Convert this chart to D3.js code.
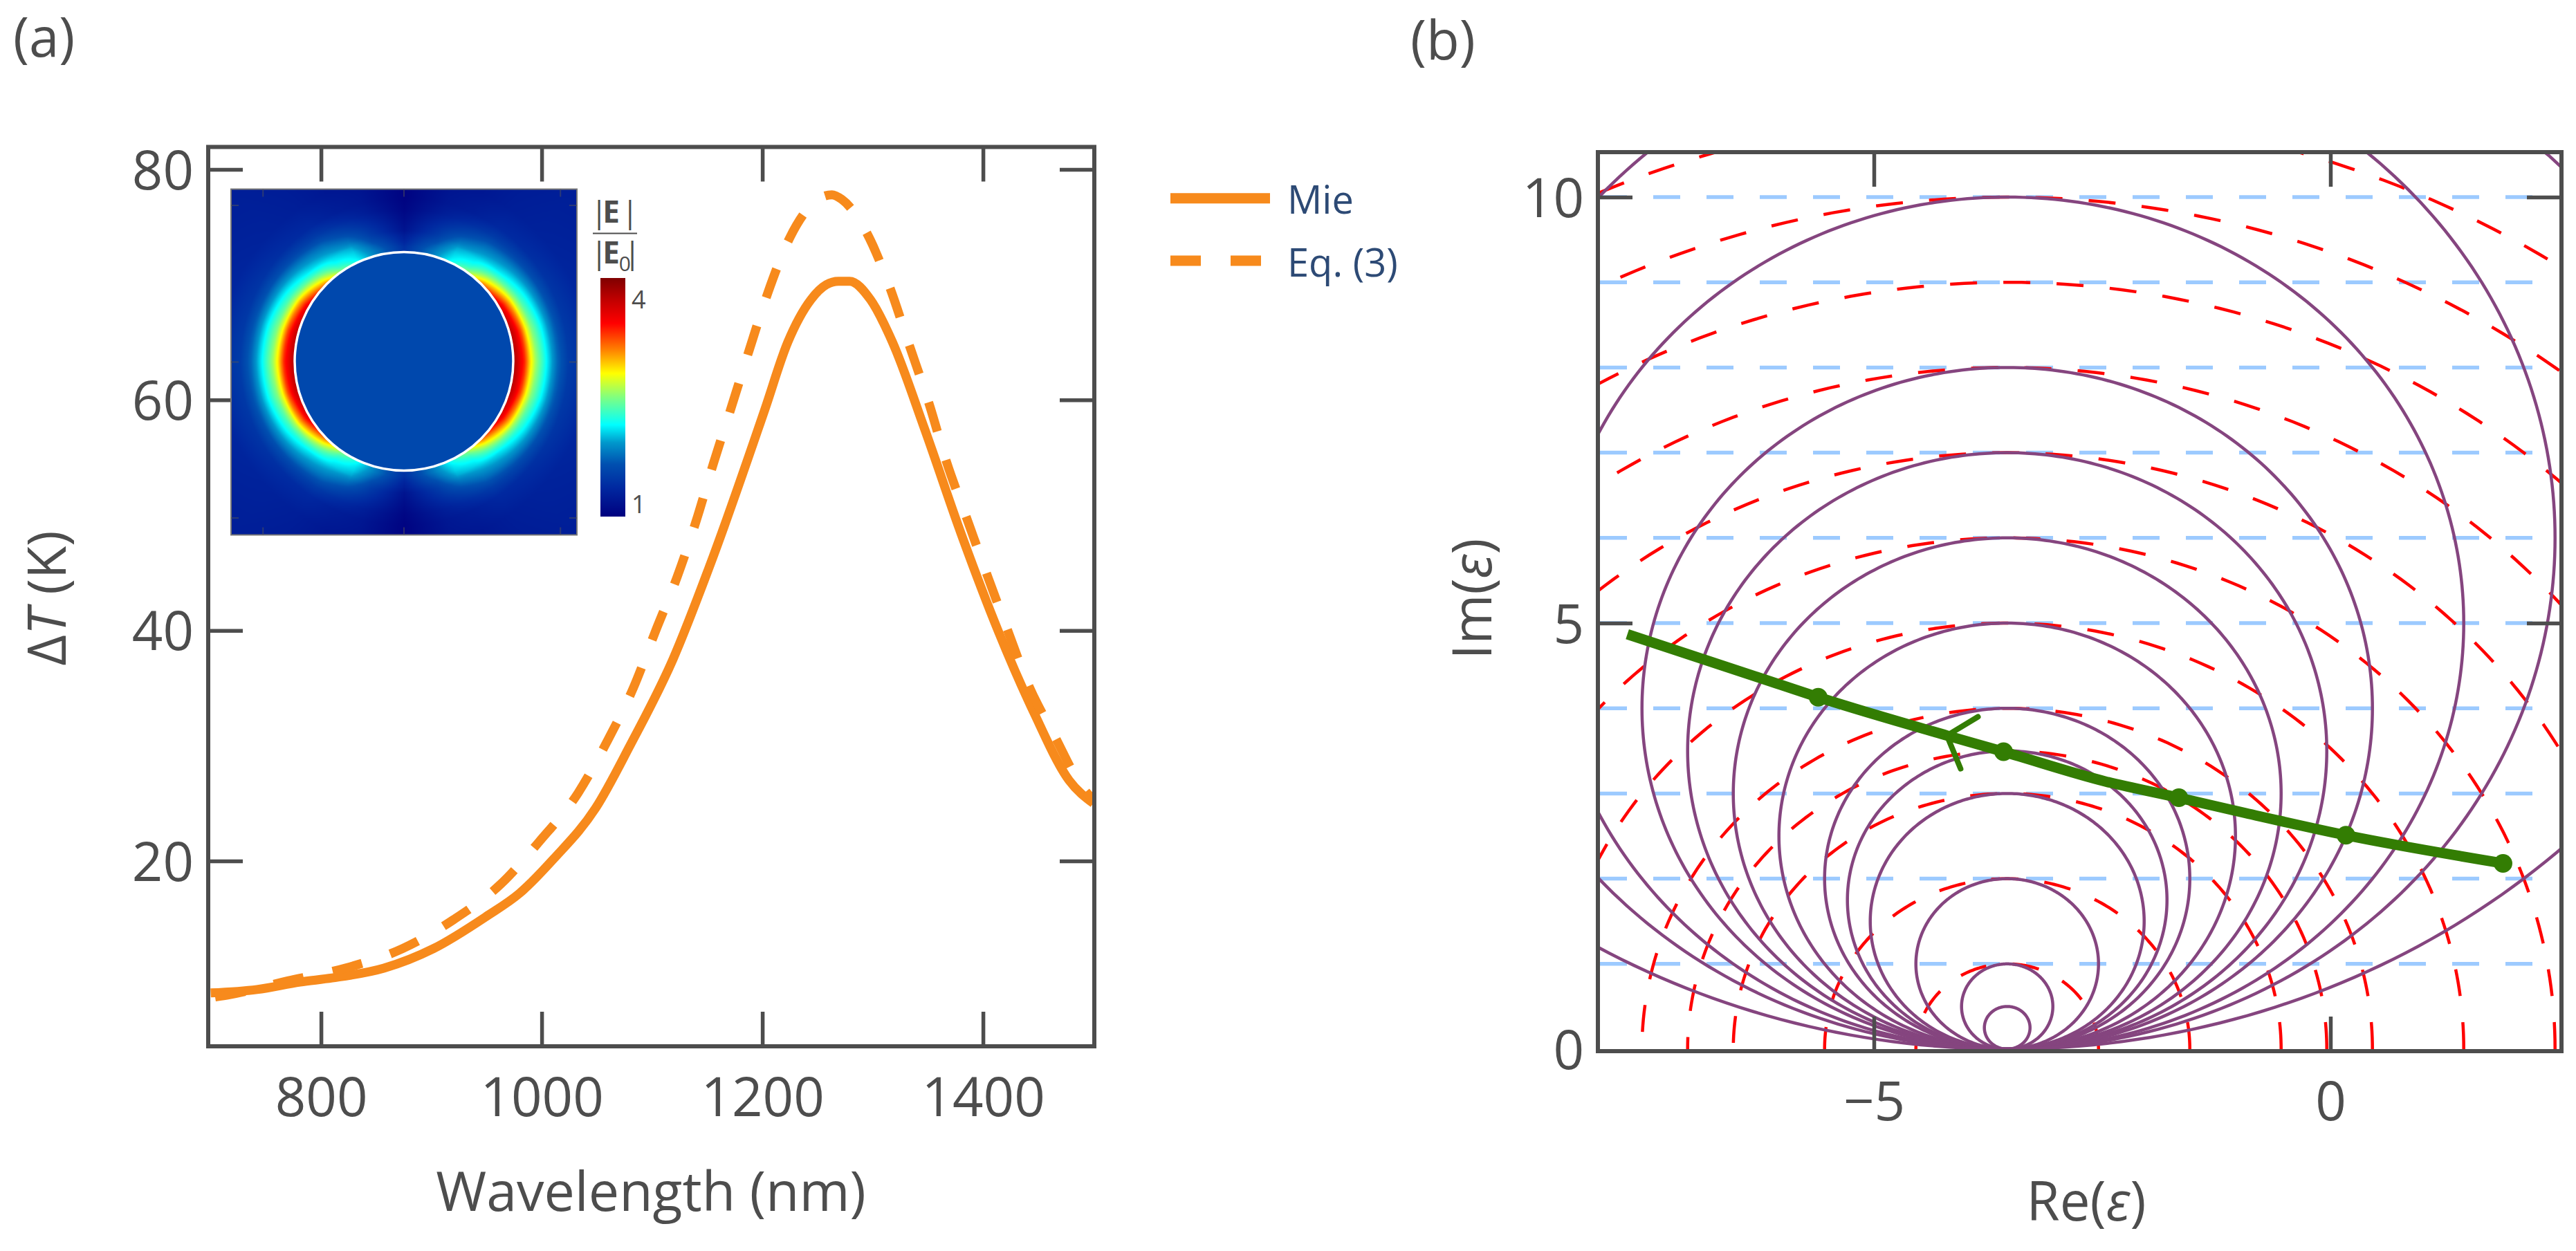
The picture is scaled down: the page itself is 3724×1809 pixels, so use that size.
<!DOCTYPE html>
<html>
<head>
<meta charset="utf-8">
<script src="https://cdn.jsdelivr.net/npm/d3@7"></script>
<style>
html,body{margin:0;padding:0;background:#fff}
svg{display:block;font-family:"Open Sans",sans-serif}
</style>
</head>
<body>
<svg id="chart" width="3724" height="1809" viewBox="0 0 3724 1809"></svg>
<script>
// ---- panel (a) data ----
const mieWavelength = [700,742,781,810,857,902,950,980,1011,1049,1080,1119,1155,1202,1223,1244,1258,1269,1279,1298,1318,1347,1382,1414,1446,1478,1500];
const mieDeltaT     = [8.55,8.85,9.5,9.85,10.7,12.4,15.2,17.2,20.2,24.6,30,37.5,46.3,59.1,65,68.7,70,70.3,70.3,68.7,65,57.5,47.9,39.9,32.9,27,25];
const eqWavelength  = [704,717,770,822,874,920,963,998,1033,1060,1083,1103,1123,1140,1156,1172,1188,1205,1225,1254,1263,1272,1294,1315,1333,1351,1367,1385,1403,1422,1441,1464,1490,1500];
const eqDeltaT      = [8.2,8.4,9.6,10.7,12.4,14.9,18,21.7,25.9,30.5,35,39.9,44.7,49.5,54.6,59.4,64.3,69.3,74.1,77.6,77.8,77.4,74.6,69.9,64.8,59.7,54.6,49.8,45,40.1,35.3,31,26.4,25.3];
const xTicksA = [800,1000,1200,1400];
const yTicksA = [20,40,60,80];
const legendLabels = ["Mie","Eq. (3)"];

// inset: |E|/|E0| colour level by angle from the horizontal and distance in sphere radii
const insetAngles = [0,15,30,45,55,65,75,90];
const insetRadii  = [1,1.05,1.1,1.15,1.2,1.3,1.4,1.5,1.7,2.2];
const insetField  = [
  [.95,.86,.78,.63,.53,.385,.25,.17,.13,.10],
  [.93,.85,.75,.60,.50,.37,.24,.16,.12,.10],
  [.88,.78,.66,.53,.44,.33,.22,.15,.11,.09],
  [.72,.60,.50,.42,.36,.28,.19,.13,.10,.09],
  [.52,.44,.39,.36,.32,.25,.17,.12,.09,.08],
  [.40,.37,.35,.32,.27,.19,.13,.09,.07,.07],
  [.28,.27,.24,.20,.17,.13,.09,.07,.06,.07],
  [.15,.14,.11,.09,.06,.04,.02,.01,.01,.05]
];
const insetInside = 0.2;
const cmapStops  = [0,.12,.22,.31,.385,.5,.6,.7,.81,.91,1];
const cmapColors = ["#00007f","#0028a0","#0050b0","#0098cc","#00ffff","#80ff80","#ffff00","#ff8000","#ff0000","#c00000","#7f0000"];
const colorbarTicks = [1,4];

// ---- panel (b) data ----
const resonanceRe = -3.54;
const purpleDiameters = [0.5,1,2,3,3.5,4,5,6,7,8,10,12,18];
const redRadii = [1,2,3,3.5,4,5,6,7,8,9,10,11];
const blueLevels = [1,2,3,4,5,6,7,8,9,10];
const purpleCorner = [[2.26,10.6],[2.39,10.49],[2.53,10.35]];
const greenRe = [-7.7,-6.23,-5.61,-4.2,-3.58,-2.46,-1.66,-0.93,0.17,1.89];
const greenIm = [4.87,4.35,4.13,3.68,3.49,3.14,2.95,2.77,2.51,2.18];
const markerRe = [-5.61,-3.58,-1.66,0.17,1.89];
const markerIm = [4.13,3.49,2.95,2.51,2.18];
const arrowA = [[-4.2,3.68],[-3.86,3.9]];
const arrowB = [[-4.2,3.68],[-4.05,3.29]];
const xTicksB = [-5,0];
const yTicksB = [0,5,10];

// ---- styles ----
const INK = "#4d4d4d", ORANGE = "#f78a1c", NAVY = "#2d4a75", GREEN = "#337d03",
      PURPLE = "#85457f", RED = "#ff0000", BLUE = "#9ccaff";

const svg = d3.select("#chart");
const defs = svg.append("defs");

function axes(g, x, y, box, xt, yt, xBase, yEnd, fmt) {
  const tick = 50;
  const bot = g.append("g").attr("transform", `translate(0,${box.b})`)
    .call(d3.axisBottom(x).tickValues(xt).tickSizeInner(-tick).tickSizeOuter(0).tickFormat(fmt));
  bot.selectAll("text").attr("y", xBase - box.b).attr("dy", 0);
  const top = g.append("g").attr("transform", `translate(0,${box.t})`)
    .call(d3.axisTop(x).tickValues(xt).tickSizeInner(-tick).tickSizeOuter(0).tickFormat(""));
  const lef = g.append("g").attr("transform", `translate(${box.l},0)`)
    .call(d3.axisLeft(y).tickValues(yt).tickSizeInner(-tick).tickSizeOuter(0).tickFormat(fmt));
  lef.selectAll("text").attr("x", yEnd - box.l).attr("dy", 28);
  const rig = g.append("g").attr("transform", `translate(${box.r},0)`)
    .call(d3.axisRight(y).tickValues(yt).tickSizeInner(-tick).tickSizeOuter(0).tickFormat(""));
  [bot, top, lef, rig].forEach(a => {
    a.select(".domain").remove();
    a.selectAll("line").attr("stroke", INK).attr("stroke-width", 5.5);
    a.selectAll("text").attr("fill", INK).attr("font-size", 78).attr("font-family", '"Open Sans",sans-serif');
  });
  [lef, rig].forEach(a => a.selectAll(".tick").filter(d => d === 0).select("line").remove());
}
function frame(g, box) {
  g.append("rect").attr("x", box.l).attr("y", box.t).attr("width", box.r - box.l).attr("height", box.b - box.t)
    .attr("fill", "none").attr("stroke", INK).attr("stroke-width", 6);
}
const fmtMinus = d => String(d).replace("-", "\u2212");

// ---------- panel (a) ----------
const boxA = {l:301, r:1582, t:212.5, b:1513};
const xA = d3.scaleLinear().domain([700,1500]).range([304.6,1580.6]);
const yA = d3.scaleLinear().domain([20,80]).range([1245,245]);
defs.append("clipPath").attr("id","clipA").append("rect")
  .attr("x",boxA.l).attr("y",boxA.t).attr("width",boxA.r-boxA.l).attr("height",boxA.b-boxA.t);

const a = svg.append("g");
axes(a, xA, yA, boxA, xTicksA, yTicksA, 1614, 280, fmtMinus);

const lineA = d3.line().x(d => xA(d[0])).y(d => yA(d[1])).curve(d3.curveMonotoneX);
const curvesA = a.append("g").attr("clip-path","url(#clipA)").attr("fill","none").attr("stroke",ORANGE).attr("stroke-width",13);
curvesA.append("path").attr("d", lineA(d3.zip(mieWavelength, mieDeltaT)));
curvesA.append("path").attr("d", lineA(d3.zip(eqWavelength, eqDeltaT))).attr("stroke-dasharray","44 43");
frame(a, boxA);

// inset heat map
const ins = {x:334, y:273.5, size:500, cx:584, cy:522.5, R:158};
const cmap = d3.scaleLinear().domain(cmapStops).range(cmapColors).clamp(true);
const canvas = document.createElement("canvas");
canvas.width = canvas.height = ins.size;
const ctx = canvas.getContext("2d");
const img = ctx.createImageData(ins.size, ins.size);
const rowScale = d3.scaleLinear().domain(insetAngles).range(d3.range(insetAngles.length)).clamp(true);
const colScale = d3.scaleLinear().domain(insetRadii).range(d3.range(insetRadii.length)).clamp(true);
function level(ang, rad) {
  const fr = rowScale(ang), fc = colScale(rad);
  const r0 = Math.min(Math.floor(fr), insetAngles.length-2), c0 = Math.min(Math.floor(fc), insetRadii.length-2);
  const tr = fr-r0, tc = fc-c0;
  const m = insetField;
  return (m[r0][c0]*(1-tc)+m[r0][c0+1]*tc)*(1-tr)+(m[r0+1][c0]*(1-tc)+m[r0+1][c0+1]*tc)*tr;
}
for (let j=0;j<ins.size;j++) for (let i=0;i<ins.size;i++) {
  const dx = ins.x+i-ins.cx, dy = ins.y+j-ins.cy;
  const rad = Math.hypot(dx,dy)/ins.R;
  const ang = Math.atan2(Math.abs(dy),Math.abs(dx))*180/Math.PI;
  const c = d3.rgb(cmap(rad<1 ? insetInside : level(ang,rad)));
  const k = (j*ins.size+i)*4;
  img.data[k]=c.r; img.data[k+1]=c.g; img.data[k+2]=c.b; img.data[k+3]=255;
}
ctx.putImageData(img,0,0);
const inset = svg.append("g");
inset.append("image").attr("x",ins.x).attr("y",ins.y).attr("width",ins.size).attr("height",ins.size)
  .attr("href",canvas.toDataURL());
inset.append("circle").attr("cx",ins.cx).attr("cy",ins.cy).attr("r",ins.R).attr("fill","none").attr("stroke","#fff").attr("stroke-width",3.5);
inset.append("rect").attr("x",ins.x).attr("y",ins.y).attr("width",ins.size).attr("height",ins.size).attr("fill","none").attr("stroke","#777").attr("stroke-width",2);
const insetTickFrac = [0.0925,0.5,0.9525];
const insTickLen = 11;
insetTickFrac.forEach(f => {
  const px = ins.x+f*ins.size, py = ins.y+(f===0.0925?0.047:f===0.9525?0.951:0.5)*ins.size;
  [[px,ins.y,px,ins.y+insTickLen],[px,ins.y+ins.size,px,ins.y+ins.size-insTickLen],
   [ins.x,py,ins.x+insTickLen,py],[ins.x+ins.size,py,ins.x+ins.size-insTickLen,py]].forEach(t =>
    inset.append("line").attr("x1",t[0]).attr("y1",t[1]).attr("x2",t[2]).attr("y2",t[3])
      .attr("stroke","#555").attr("stroke-opacity",.5).attr("stroke-width",2));
});

// colour bar
const grad = defs.append("linearGradient").attr("id","cbar").attr("x1",0).attr("y1",1).attr("x2",0).attr("y2",0);
cmapStops.forEach((s,i)=>grad.append("stop").attr("offset",s).attr("stop-color",cmapColors[i]));
const cbar = {x:868,y:402,w:36,h:345};
inset.append("rect").attr("x",cbar.x).attr("y",cbar.y).attr("width",cbar.w).attr("height",cbar.h).attr("fill","url(#cbar)");
const cbarY = d3.scaleLinear().domain([1,4]).range([728.6,432.6]);
inset.selectAll(".cbt").data(colorbarTicks).join("text").attr("class","cbt")
  .attr("x",913).attr("y",d=>cbarY(d)+13).attr("font-size",36).attr("fill",INK).text(d=>d);

// |E|/|E0| label
const lab = inset.append("g").attr("fill",INK).attr("font-size",44);
const num = lab.append("text").attr("x",854).attr("y",322);
num.append("tspan").text("|");
num.append("tspan").attr("dx",-7).attr("font-weight",700).text("E");
num.append("tspan").attr("dx",3).text("|");
lab.append("line").attr("x1",857).attr("x2",921).attr("y1",337.5).attr("y2",337.5).attr("stroke",INK).attr("stroke-width",2);
const den = lab.append("text").attr("x",854).attr("y",381);
den.append("tspan").text("|");
den.append("tspan").attr("dx",-7).attr("font-weight",700).text("E");
den.append("tspan").attr("dx",-1).attr("dy",11).attr("font-size",30).text("0");
den.append("tspan").attr("dx",-10).attr("dy",-11).text("|");

// legend
const legY = [286.7,377], legBase = [309,400];
const leg = svg.append("g");
legendLabels.forEach((t,i)=>{
  const l = leg.append("line").attr("x1",1692).attr("x2",1836).attr("y1",legY[i]).attr("y2",legY[i])
    .attr("stroke",ORANGE).attr("stroke-width",15);
  if(i===1) l.attr("stroke-dasharray","44 43").attr("x2",1823);
  leg.append("text").attr("x",1861).attr("y",legBase[i]).attr("font-size",56).attr("fill",NAVY).text(t);
});

// panel (a) titles
svg.append("text").attr("x",941).attr("y",1751).attr("text-anchor","middle").attr("font-size",79).attr("fill",INK).text("Wavelength (nm)");
const ya = svg.append("text").attr("transform","translate(95,865) rotate(-90)").attr("text-anchor","middle").attr("font-size",77).attr("fill",INK);
ya.append("tspan").text("\u0394");
ya.append("tspan").attr("font-style","italic").text("T");
ya.append("tspan").text(" (K)");
svg.append("text").attr("x",19).attr("y",82).attr("font-size",78).attr("fill",INK).text("(a)");
svg.append("text").attr("x",2039).attr("y",86).attr("font-size",78).attr("fill",INK).text("(b)");

// ---------- panel (b) ----------
const boxB = {l:2310, r:3703, t:220, b:1520};
const xB = d3.scaleLinear().domain([-8,2.5]).range([2313,3699]);
const yB = d3.scaleLinear().domain([0,10]).range([1517,285]);
defs.append("clipPath").attr("id","clipB").append("rect")
  .attr("x",boxB.l).attr("y",boxB.t).attr("width",boxB.r-boxB.l).attr("height",boxB.b-boxB.t);
const b = svg.append("g");
const plotB = b.append("g").attr("clip-path","url(#clipB)").attr("fill","none");

const lineB = d3.line().x(d=>xB(d[0])).y(d=>yB(d[1]));
const angles = d3.range(0,361,1).map(d=>d*Math.PI/180);
// blue constant-Im lines
plotB.selectAll(".blue").data(blueLevels).join("path").attr("class","blue")
  .attr("d",d=>lineB([[-8,d],[2.5,d]])).attr("stroke",BLUE).attr("stroke-width",5.5).attr("stroke-dasharray","39 38");
// red concentric circles
plotB.selectAll(".red").data(redRadii).join("path").attr("class","red")
  .attr("d",r=>lineB(angles.map(t=>[resonanceRe+r*Math.cos(t), r*Math.sin(t)])))
  .attr("stroke",RED).attr("stroke-width",4.5).attr("stroke-dasharray","39 38");
// purple tangent circles
plotB.selectAll(".pur").data(purpleDiameters).join("path").attr("class","pur")
  .attr("d",D=>lineB(angles.map(t=>[resonanceRe+D/2*Math.cos(t), D/2+D/2*Math.sin(t)])))
  .attr("stroke",PURPLE).attr("stroke-width",4.5);
plotB.append("path").attr("d",lineB(purpleCorner)).attr("stroke",PURPLE).attr("stroke-width",4.5);
// green
const greenLine = d3.line().x(d=>xB(d[0])).y(d=>yB(d[1])).curve(d3.curveMonotoneX);
plotB.append("path").attr("d",greenLine(d3.zip(greenRe,greenIm))).attr("stroke",GREEN).attr("stroke-width",15);
[arrowA,arrowB].forEach(p=>plotB.append("path").attr("d",lineB(p)).attr("stroke",GREEN).attr("stroke-width",8).attr("stroke-linecap","round"));
plotB.selectAll(".mk").data(d3.zip(markerRe,markerIm)).join("circle").attr("class","mk")
  .attr("cx",d=>xB(d[0])).attr("cy",d=>yB(d[1])).attr("r",13.5).attr("fill",GREEN);

axes(b, xB, yB, boxB, xTicksB, yTicksB, 1620, 2290, fmtMinus);
frame(b, boxB);

svg.append("text").attr("x",3016).attr("y",1765).attr("text-anchor","middle").attr("font-size",78).attr("fill",INK)
  .call(t=>{t.append("tspan").text("Re(");t.append("tspan").attr("font-style","italic").text("\u03b5");t.append("tspan").text(")");});
svg.append("text").attr("transform","translate(2156,866) rotate(-90)").attr("text-anchor","middle").attr("font-size",78).attr("fill",INK)
  .call(t=>{t.append("tspan").text("Im(");t.append("tspan").attr("font-style","italic").text("\u03b5");t.append("tspan").text(")");});
</script>
</body>
</html>
